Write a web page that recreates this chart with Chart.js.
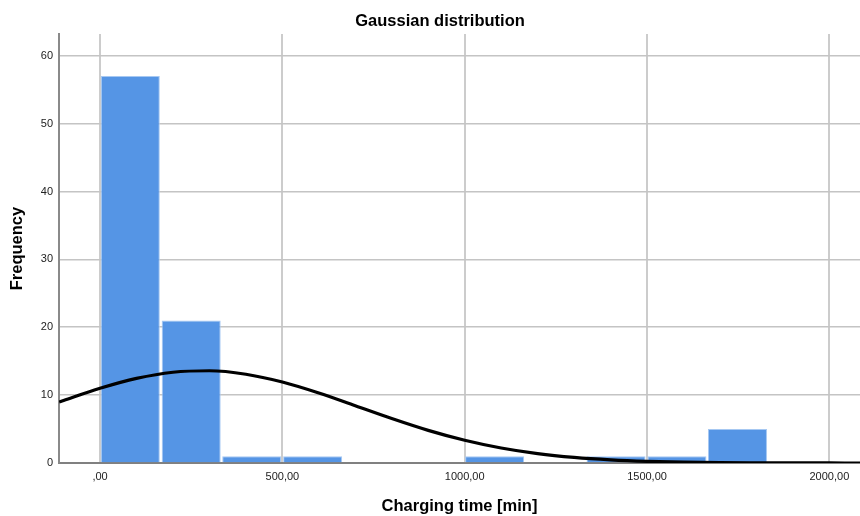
<!DOCTYPE html>
<html>
<head>
<meta charset="utf-8">
<script src="https://cdn.jsdelivr.net/npm/chart.js@4/dist/chart.umd.min.js"></script>
<style>
  html, body { margin: 0; padding: 0; background: #fff; }
  #chart { display: block; }
</style>
</head>
<body>
<canvas id="chart" width="860" height="516"></canvas>
<script>
// histogram bins (centre of each bin, minutes) and counts
const binCenters = [83, 250, 416, 583, 749, 916, 1082, 1249, 1415, 1582, 1748];
const binCounts  = [57, 21, 1, 1, 0, 0, 1, 0, 1, 1, 5];

// fitted normal curve
const curveX = [-112, -100, 0, 100, 200, 300, 400, 500, 600, 700, 800, 900, 1000,
                1100, 1200, 1300, 1400, 1500, 1600, 1700, 1800, 1900, 2000, 2084];
const curveY = [8.98, 9.2, 11.0, 12.46, 13.37, 13.59, 13.08, 11.93, 10.31, 8.44, 6.55, 4.81, 3.35,
                2.21, 1.38, 0.82, 0.46, 0.24, 0.12, 0.06, 0.03, 0.01, 0.005, 0.002];

const xTicks = [0, 500, 1000, 1500, 2000];

const fontFamily = '"Liberation Sans", Arial, sans-serif';

new Chart(document.getElementById('chart'), {
  data: {
    datasets: [
      {
        type: 'line',
        label: 'Normal',
        data: curveX.map((x, i) => ({ x: x, y: curveY[i] })),
        borderColor: '#000000',
        borderWidth: 3.2,
        pointRadius: 0,
        cubicInterpolationMode: 'monotone',
        order: 0
      },
      {
        type: 'bar',
        label: 'Frequency',
        data: binCenters.map((x, i) => ({ x: x, y: binCounts[i] })),
        backgroundColor: '#5595e5',
        borderColor: '#a6c8f2',
        borderWidth: 1,
        barPercentage: 0.975,
        categoryPercentage: 1.0,
        order: 1
      }
    ]
  },
  options: {
    responsive: false,
    animation: false,
    // left padding shifts the title centre; the y scale is narrowed to match
    layout: { padding: { left: 20 } },
    plugins: {
      legend: { display: false },
      tooltip: { enabled: false },
      title: {
        display: true,
        text: 'Gaussian distribution',
        color: '#000',
        font: { family: fontFamily, size: 16.5, weight: 'bold' },
        padding: { top: 12, bottom: 2.2 }
      }
    },
    scales: {
      x: {
        type: 'linear',
        min: -112.5,
        max: 2084,
        offset: false,
        afterBuildTicks: (scale) => { scale.ticks = xTicks.map(v => ({ value: v })); },
        afterFit: (scale) => { scale.height = 53; },
        ticks: {
          includeBounds: false,
          padding: 7,
          color: '#222',
          font: { family: fontFamily, size: 11 },
          maxRotation: 0,
          callback: (v) => (v === 0 ? ',00' : v + ',00')
        },
        grid: { color: '#cccccc', lineWidth: 2, drawTicks: false, offset: false },
        border: { color: '#808080', width: 2 },
        title: {
          display: true,
          text: 'Charging time [min]',
          color: '#000',
          font: { family: fontFamily, size: 16.5, weight: 'bold' },
          padding: { top: 0, bottom: 0 }
        }
      },
      y: {
        min: 0,
        max: 63.2,
        afterFit: (scale) => { scale.width = 39; },
        ticks: {
          stepSize: 10,
          includeBounds: false,
          padding: 6,
          color: '#222',
          font: { family: fontFamily, size: 11 }
        },
        grid: { color: '#c4c4c4', lineWidth: 1.5, drawTicks: false },
        border: { color: '#8a8a8a', width: 2 },
        title: {
          display: true,
          text: 'Frequency',
          color: '#000',
          font: { family: fontFamily, size: 16.5, weight: 'bold' },
          padding: { top: -12, bottom: 0 }
        }
      }
    }
  }
});
</script>
</body>
</html>
